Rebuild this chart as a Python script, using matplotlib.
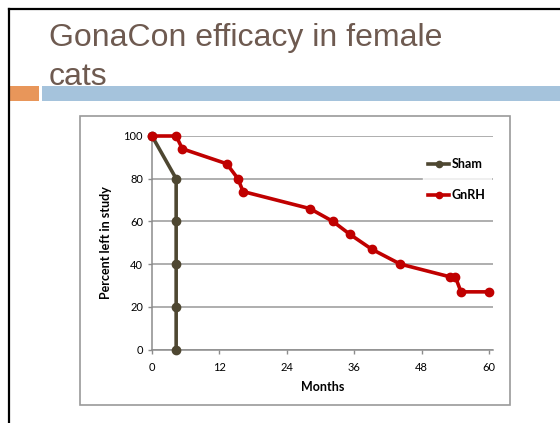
import matplotlib.pyplot as plt
from matplotlib.patches import Rectangle
from matplotlib.lines import Line2D

# data
sham_months = [0, 4.3, 4.3, 4.3, 4.3, 4.3]
sham_pct = [100, 80, 60, 40, 20, 0]
gnrh_months = [0, 4.3, 5.4, 13.3, 15.3, 16.2, 28.1, 32.2, 35.2, 39.1, 44.2, 53.1, 54.0, 55.0, 60.0]
gnrh_pct = [100, 100, 94, 87, 80, 74, 66, 60, 54, 47, 40, 34, 34, 27, 27]
x_ticks = [0, 12, 24, 36, 48, 60]
y_ticks = [0, 20, 40, 60, 80, 100]

W, H = 560, 423
fig = plt.figure(figsize=(W / 100, H / 100), dpi=100)
plt.rcParams['font.family'] = ['Lato', 'DejaVu Sans']

def fx(px):
    return px / W

def fy(py):
    return 1 - py / H

# slide frame (top and left black edges)
fig.add_artist(Line2D([fx(9), 1], [fy(9), fy(9)], color='black', lw=1.6))
fig.add_artist(Line2D([fx(9), fx(9)], [fy(9), 0], color='black', lw=1.6))

# accent bars under the title
fig.add_artist(Rectangle((fx(10), fy(101)), fx(29), fy(86) - fy(101), color='#e8965a', lw=0))
fig.add_artist(Rectangle((fx(42), fy(101)), 1 - fx(42), fy(86) - fy(101), color='#a5c3dc', lw=0))

fig.text(fx(49), fy(38), 'GonaCon efficacy in female', fontsize=23, color='#6e5a50',
         family='Liberation Sans', va='center', zorder=5)
fig.text(fx(49), fy(77), 'cats', fontsize=23, color='#6e5a50',
         family='Liberation Sans', va='center', zorder=5)

# chart area border
fig.add_artist(Rectangle((fx(80), fy(405)), fx(510 - 80), fy(116) - fy(405),
                         fill=False, edgecolor='#9a9a9a', lw=1.2))

ax = fig.add_axes([fx(152), fy(349.5), fx(493 - 152), fy(136) - fy(349.5)])
ax.set_xlim(0, 60.7)
ax.set_ylim(0, 100)
ax.set_xticks(x_ticks)
ax.set_yticks(y_ticks)
ax.grid(axis='y', color='#999999', lw=1.1)
ax.set_axisbelow(True)
for s in ['top', 'right']:
    ax.spines[s].set_visible(False)
for s in ['left', 'bottom']:
    ax.spines[s].set_color('#8c8c8c')
    ax.spines[s].set_linewidth(1.1)
ax.tick_params(colors='#8c8c8c', labelcolor='black', labelsize=8, length=3, width=1)
ax.tick_params(axis='x', pad=6)

ax.plot(sham_months, sham_pct, color='#4e4731', lw=2.6, marker='o', ms=6,
        label='Sham', clip_on=False, zorder=3)
ax.plot(gnrh_months, gnrh_pct, color='#c00000', lw=2.6, marker='o', ms=6,
        label='GnRH', clip_on=False, zorder=4)

ax.set_xlabel('Months', fontsize=9, fontweight='bold', labelpad=6)
ax.set_ylabel('Percent left in study', fontsize=9, fontweight='bold', labelpad=8)

leg = ax.legend(loc='upper right', bbox_to_anchor=(1.0, 0.93), frameon=True,
                fontsize=9, handlelength=1.7, handletextpad=0.2, labelspacing=1.5,
                borderaxespad=0.2, markerscale=0.75)
leg.get_frame().set_facecolor('white')
leg.get_frame().set_edgecolor('white')
for t in leg.get_texts():
    t.set_fontweight('bold')

fig.savefig('out.png', dpi=100)
